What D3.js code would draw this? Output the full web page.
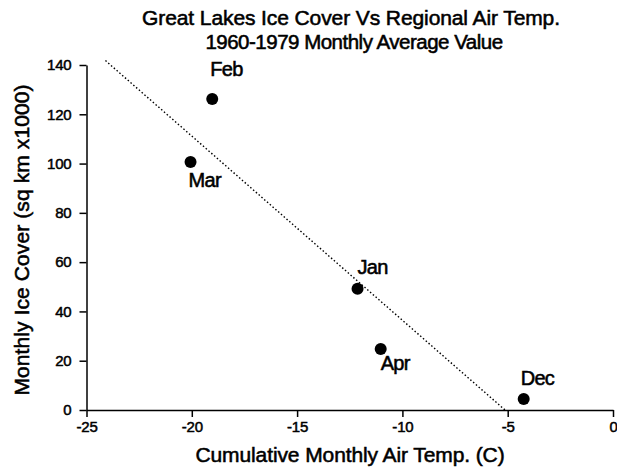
<!DOCTYPE html>
<html>
<head>
<meta charset="utf-8">
<script src="https://cdn.jsdelivr.net/npm/d3@7"></script>
<style>
  html, body { margin: 0; padding: 0; background: #fff; }
  svg { display: block; font-family: "Liberation Sans", Arial, sans-serif; }
  .axis path, .axis line { stroke: #000; stroke-width: 1.5; }
  .axis text { font-size: 15px; fill: #000; letter-spacing: -0.2px; stroke: #000; stroke-width: 0.5px; }
  .heavy { fill: #000; stroke: #000; stroke-width: 0.55px; }
</style>
</head>
<body>
<div id="chart"></div>
<script>
(function() {
    'use strict';

    // Monthly averages 1960-1979
    var months = ['Feb', 'Mar', 'Jan', 'Apr', 'Dec'];
    var airTemp = [-19.03, -20.06, -12.13, -11.03, -4.24];   // cumulative monthly air temp (C)
    var iceCover = [126.2, 100.6, 49.2, 24.8, 4.5];          // sq km x1000
    var xTicks = [-25, -20, -15, -10, -5, 0];
    var yTicks = [0, 20, 40, 60, 80, 100, 120, 140];
    var fitStartX = -24.1;

    // label offsets (px) above / below each point
    var labelDy = { Feb: -23, Mar: 25, Jan: -15, Apr: 21, Dec: -14 };
    var labelDx = { Feb: -2, Mar: -2, Jan: 0, Apr: 0, Dec: -3 };

    var width = 617, height = 468;
    var margin = { top: 65, right: 4, bottom: 58, left: 86.5 };

    var svg = d3.select('#chart').append('svg')
        .attr('width', width)
        .attr('height', height);

    var x = d3.scaleLinear().domain([-25, 0]).range([margin.left, width - margin.right]);
    var y = d3.scaleLinear().domain([0, 140]).range([height - margin.bottom, margin.top]);

    // Title
    svg.append('text')
        .attr('class', 'heavy')
        .attr('x', 351).attr('y', 25)
        .attr('text-anchor', 'middle')
        .style('font-size', '21px')
        .style('letter-spacing', '-0.1px')
        .text('Great Lakes Ice Cover Vs Regional Air Temp.');
    svg.append('text')
        .attr('class', 'heavy')
        .attr('x', 354).attr('y', 48.5)
        .attr('text-anchor', 'middle')
        .style('font-size', '20.5px')
        .style('letter-spacing', '-0.5px')
        .text('1960-1979 Monthly Average Value');

    // Axes
    svg.append('g')
        .attr('class', 'axis')
        .attr('transform', 'translate(0,' + y(0) + ')')
        .call(d3.axisBottom(x).tickValues(xTicks).tickSize(7).tickSizeOuter(0)
            .tickFormat(function(d) { return String(d); }).tickPadding(4));

    svg.append('g')
        .attr('class', 'axis')
        .attr('transform', 'translate(' + x(-25) + ',0)')
        .call(d3.axisLeft(y).tickValues(yTicks).tickSize(7).tickSizeOuter(0)
            .tickPadding(8));

    // Axis titles
    svg.append('text')
        .attr('class', 'heavy')
        .attr('x', 350)
        .attr('y', 461.5)
        .attr('text-anchor', 'middle')
        .style('font-size', '21px')
        .style('letter-spacing', '-0.1px')
        .text('Cumulative Monthly Air Temp. (C)');

    svg.append('text')
        .attr('class', 'heavy')
        .attr('transform', 'translate(29,240) rotate(-90)')
        .attr('text-anchor', 'middle')
        .style('font-size', '21px')
        .style('letter-spacing', '0.1px')
        .text('Monthly Ice Cover (sq km x1000)');

    // Least-squares fit line
    var mx = d3.mean(airTemp), my = d3.mean(iceCover);
    var sxy = d3.sum(airTemp, function(v, i) { return (v - mx) * (iceCover[i] - my); });
    var sxx = d3.sum(airTemp, function(v) { return (v - mx) * (v - mx); });
    var slope = sxy / sxx;
    var intercept = my - slope * mx;
    var fitEndX = -intercept / slope;

    svg.append('line')
        .attr('x1', x(fitStartX))
        .attr('y1', y(slope * fitStartX + intercept))
        .attr('x2', x(fitEndX))
        .attr('y2', y(0))
        .attr('stroke', '#000')
        .attr('stroke-width', 1.4)
        .attr('stroke-dasharray', '1.5,2.2');

    // Points
    var pts = months.map(function(m, i) { return { month: m, t: airTemp[i], ice: iceCover[i] }; });

    svg.selectAll('circle.pt')
        .data(pts)
        .join('circle')
        .attr('class', 'pt')
        .attr('cx', function(d) { return x(d.t); })
        .attr('cy', function(d) { return y(d.ice); })
        .attr('r', 6)
        .attr('fill', '#000');

    svg.selectAll('text.lbl')
        .data(pts)
        .join('text')
        .attr('class', 'lbl heavy')
        .attr('x', function(d) { return x(d.t) + labelDx[d.month]; })
        .attr('y', function(d) { return y(d.ice) + labelDy[d.month]; })
        .style('font-size', '20px')
        .style('letter-spacing', '-0.7px')
        .text(function(d) { return d.month; });
})();
</script>
</body>
</html>
